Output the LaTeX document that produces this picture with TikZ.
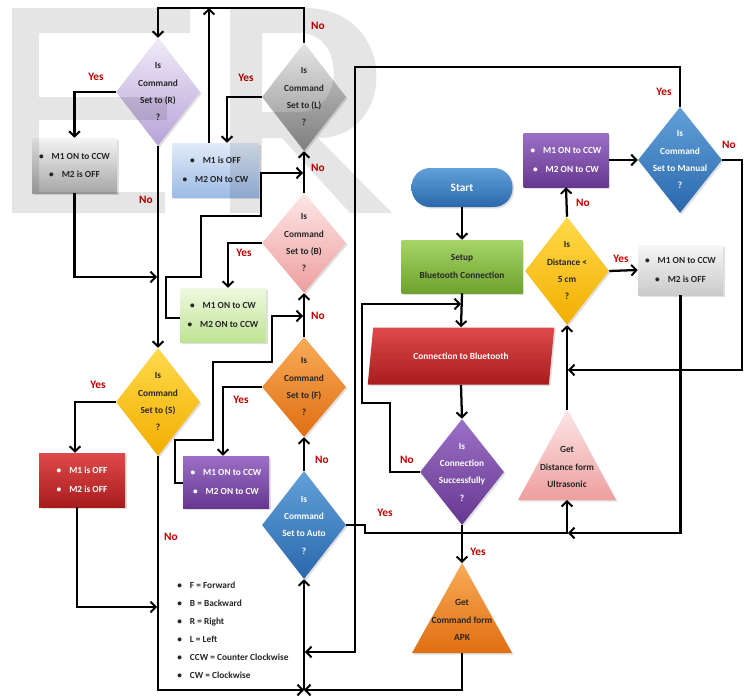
\documentclass[tikz,border=0pt]{standalone}
\usepackage{fontspec}
\setmainfont{Carlito}
\usetikzlibrary{shapes.geometric,arrows.meta,calc,shadows}
\definecolor{labred}{HTML}{C00000}
\definecolor{dark}{HTML}{262626}
\definecolor{lavT}{HTML}{F0EAF8}\definecolor{lavB}{HTML}{B7A3D8}
\definecolor{grT}{HTML}{E4E4E4}\definecolor{grB}{HTML}{8E8E8E}
\definecolor{pkT}{HTML}{FDE6E6}\definecolor{pkB}{HTML}{EE9E9E}
\definecolor{gbT}{HTML}{F4F4F4}\definecolor{gbB}{HTML}{A6A6A6}
\definecolor{blT}{HTML}{E2EBF8}\definecolor{blB}{HTML}{9CBBE6}
\definecolor{gnT}{HTML}{EEF9E0}\definecolor{gnB}{HTML}{BFE394}
\definecolor{yeT}{HTML}{FFDA4A}\definecolor{yeB}{HTML}{F2AE00}
\definecolor{orT}{HTML}{F8AC58}\definecolor{orB}{HTML}{E06E12}
\definecolor{buT}{HTML}{62A0DA}\definecolor{buB}{HTML}{2B68AC}
\definecolor{rdT}{HTML}{DE4A4A}\definecolor{rdB}{HTML}{A81C1E}
\definecolor{puT}{HTML}{9C70C6}\definecolor{puB}{HTML}{66378F}
\definecolor{sgT}{HTML}{A6D468}\definecolor{sgB}{HTML}{6EA22C}
\definecolor{lgT}{HTML}{F6F6F6}\definecolor{lgB}{HTML}{CACACA}
\tikzset{
  shd/.style={drop shadow={opacity=0.25,shadow xshift=1.2pt,shadow yshift=-1.2pt}},
  dia/.style={diamond, shd, draw=none, inner sep=0pt, minimum width=63pt, minimum height=81pt},
  diasmall/.style={dia, minimum height=75pt},
  box/.style={rectangle, shd, draw=none, inner sep=0pt, minimum width=64.5pt, minimum height=40.5pt,
    align=center, font=\bfseries\fontsize{7}{14}\selectfont},
  txt/.style={inner sep=0pt, align=center, font=\bfseries\fontsize{7}{13}\selectfont},
  ln/.style={line width=1.7pt, black},
  arr/.style={ln, -{Straight Barb[length=3.8pt,width=8pt,line width=1.5pt]}},
  lab/.style={inner sep=0pt, font=\bfseries\fontsize{8.5}{9}\selectfont, text=labred},
}
\newcommand\bl{\textbullet\hspace{6pt}}
\begin{document}
\begin{tikzpicture}[x=0.75pt,y=-0.75pt]
\useasboundingbox (0,0) rectangle (746,696);
\fill[white] (0,0) rectangle (746,696);

% ---------- left column diamonds ----------
\node[dia, top color=lavT, bottom color=lavB] (R) at (158,92) {};
\node[txt, text=dark] (Rt) at (R) {Is\\Command\\Set to (R)\\?};
\node[dia, top color=grT, bottom color=grB] (L) at (304,97) {};
\node[txt, text=dark] (Lt) at (L) {Is\\Command\\Set to (L)\\?};
\node[diasmall, top color=pkT, bottom color=pkB] (B) at (304,243) {};
\node[txt, text=dark] (Bt) at (B) {Is\\Command\\Set to (B)\\?};
\node[diasmall, top color=orT, bottom color=orB] (F) at (304,387) {};
\node[txt, text=dark] (Ft) at (F) {Is\\Command\\Set to (F)\\?};
\node[dia, top color=yeT, bottom color=yeB] (S) at (158,402) {};
\node[txt, text=dark] (St) at (S) {Is\\Command\\Set to (S)\\?};
\node[dia, top color=buT, bottom color=buB] (Auto) at (304,525) {};
\node[txt, text=white] (Autot) at (Auto) {Is\\Command\\Set to Auto\\?};

% ---------- left column boxes ----------
\node[box, top color=gbT, bottom color=gbB, text=dark, minimum width=63.75pt, minimum height=41.25pt] (G1) at (74.5,165.5) {\bl M1 ON to CCW\\\bl M2 is OFF};
\node[box, top color=blT, bottom color=blB, text=dark, minimum width=65.25pt] (Blue) at (215.5,170) {\bl M1 is OFF\\\bl M2 ON to CW};
\node[box, top color=gnT, bottom color=gnB, text=dark] (Green) at (223,315) {\bl M1 ON to CW\\\bl M2 ON to CCW};
\node[box, top color=rdT, bottom color=rdB, text=white] (Red) at (82,480) {\bl M1 is OFF\\\bl M2 is OFF};
\node[box, top color=puT, bottom color=puB, text=white, minimum height=39pt] (PurpL) at (226,482) {\bl M1 ON to CCW\\\bl M2 ON to CW};

% ---------- right part ----------
\node[rectangle, rounded corners=14pt, shd, top color=buT, bottom color=buB, minimum width=75.75pt, minimum height=29.25pt,
  inner sep=0pt, text=white, font=\bfseries\fontsize{8.5}{10}\selectfont] (Start) at (462,187.5) {Start};
\node[box, top color=sgT, bottom color=sgB, text=dark, minimum width=90.75pt, minimum height=39.75pt] (Setup) at (462,266.5) {Setup\\Bluetooth Connection};
\node[trapezium, trapezium left angle=66, trapezium right angle=114, trapezium stretches=true, shd,
  top color=rdT, bottom color=rdB, minimum width=140pt, minimum height=42.75pt, inner sep=0pt,
  text=white, font=\bfseries\fontsize{7}{9}\selectfont] (CB) at (461,356) {Connection to Bluetooth};
\node[dia, minimum height=79.5pt, top color=puT, bottom color=puB] (Conn) at (462,472) {};
\node[txt, text=white] (Connt) at (Conn) {Is\\Connection\\Successfully\\?};
% triangle: get command
\coordinate (GCa) at (462,563);
\coordinate (GCb) at (462,653);
\path[shd, top color=orT, bottom color=orB] (GCa) -- (512,653) -- (412,653) -- cycle;
\node[txt, text=dark] (GCt) at (462,620) {Get\\Command form\\APK};
% triangle: get distance
\coordinate (GDa) at (567,410);
\coordinate (GDb) at (567,500);
\path[shd, top color=pkT, bottom color=pkB] (GDa) -- (616,500) -- (518,500) -- cycle;
\node[txt, text=dark] (GDt) at (567,467) {Get\\Distance form\\Ultrasonic};

\node[dia, top color=yeT, bottom color=yeB] (Dist) at (567,271) {};
\node[txt, text=dark] (Distt) at (Dist) {Is\\Distance <\\5 cm\\?};
\node[dia, minimum height=79.5pt, top color=buT, bottom color=buB] (Man) at (680,160) {};
\node[txt, text=white] (Mant) at (Man) {Is\\Command\\Set to Manual\\?};
\node[box, top color=puT, bottom color=puB, text=white, minimum width=63.75pt] (PurpR) at (566,160) {\bl M1 ON to CCW\\\bl M2 ON to CW};
\node[box, top color=lgT, bottom color=lgB, text=dark, minimum width=63.75pt, minimum height=37.5pt] (GrayR) at (680.5,270) {\bl M1 ON to CCW\\\bl M2 is OFF};

% ---------- legend ----------
\node[anchor=north west, inner sep=0pt, align=left, text=dark, font=\bfseries\fontsize{7}{13.5}\selectfont] (leg) at (177,582)
  {\bl F = Forward\\\bl B = Backward\\\bl R = Right\\\bl L = Left\\\bl CCW = Counter Clockwise\\\bl CW = Clockwise};

% ---------- helper levels ----------
\coordinate (ytop) at (0,8);
\coordinate (J) at (304,690);

% ---------- connectors ----------
\draw[arr] (L.north) -- (L.north |- ytop) -- (R.north |- ytop) -- (R.north);
\node[lab] (n1) at (318,26) {No};
\draw[arr] (R.west) -| (G1.north);
\node[lab] (y1) at (96,77) {Yes};
\draw[arr] (R.south) -- (S.north);
\node[lab] (n2) at (146,200) {No};
\draw[arr] (G1.south) |- (157,277);
\draw[arr] (L.west) -| ($(Blue.north)+(11.5,0)$);
\node[lab] (y2) at (246,78) {Yes};
\draw[arr] ($(Blue.north)+(-6.5,0)$) -- ($(Blue.north |- ytop)+(-6.5,0)$);
\draw[arr] (B.north) -- (L.south);
\node[lab] (n3) at (318,168) {No};
\draw[arr] (F.north) -- (B.south);
\node[lab] (n4) at (318,316) {No};
\draw[arr] (Auto.north) -- (F.south);
\node[lab] (n5) at (322,460) {No};
\draw[arr] (B.west) -| ($(Green.north)+(5,0)$);
\node[lab] (y3) at (244,253) {Yes};
\draw[arr] ($(Green.west)+(0,3)$) -- ++(-14,0) |- (201,277) |- (261,216) |- (303,173);
\draw[arr] (F.west) -| ($(PurpL.north)+(-3,0)$);
\node[lab] (y4) at (241,400) {Yes};
\draw[arr] ($(PurpL.west)+(0,1)$) -- ++(-8,0) |- (213,440) |- (272,362) |- (303,316);
\draw[arr] (S.west) -| ($(Red.north)+(-7,0)$);
\node[lab] (y5) at (98,385) {Yes};
\draw[arr] ($(Red.south)+(-5,0)$) |- (157,607);
\draw[arr] (S.south) |- (J);
\node[lab] (n6) at (171,537) {No};
\draw[arr] (GCb) |- (J);
\draw[arr] (J) -- (Auto.south);

\draw[arr] (Start.south) -- (Setup.north);
\draw[arr] (Setup.south) -- (CB.north);
\draw[arr] (CB.south) -- (Conn.north);
\draw[arr] (Conn.south) -- (GCa);
\node[lab] (y6) at (478,552) {Yes};
\draw[arr] (Conn.west) -- (390,472) |- (362,403) |- (461,304);
\node[lab] (n7) at (407,460) {No};
\draw[arr] (Man.north) |- (355,67) |- (305,652);
\node[lab] (y7) at (664,92) {Yes};
\draw[arr] (Auto.east) -- (365,525) |- (567,533) -- (GDb);
\node[lab] (y8) at (385,513) {Yes};
\draw[arr] (GrayR.south) |- (568,533);
\draw[arr] (Man.east) -- (742,160) |- (568,370);
\node[lab] (n8) at (729,145) {No};
\draw[arr] (GDa) -- (Dist.south);
\draw[arr] (Dist.east) -- (GrayR.west);
\node[lab] (y9) at (621,259) {Yes};
\draw[arr] (Dist.north) -- (PurpR.south);
\node[lab] (n9) at (583,203) {No};
\draw[arr] (PurpR.east) -- (Man.west);

% ---------- watermark ----------
\fill[black, fill opacity=0.1] (12,8) -- (190,8) -- (190,33) -- (39,33) -- (39,97) -- (167,97) -- (167,120)
  -- (39,120) -- (39,192) -- (165,192) -- (165,213) -- (12,213) -- cycle;
\fill[black, fill opacity=0.1, even odd rule] (230,213) -- (230,8) -- (305,8) .. controls (398,8) and (398,138) .. (318,138)
  -- (392,213) -- (350,213) -- (282,138) -- (262,138) -- (262,213) -- cycle
  (262,33) -- (300,33) .. controls (345,33) and (345,112) .. (300,112) -- (262,112) -- cycle;
\end{tikzpicture}
\end{document}
